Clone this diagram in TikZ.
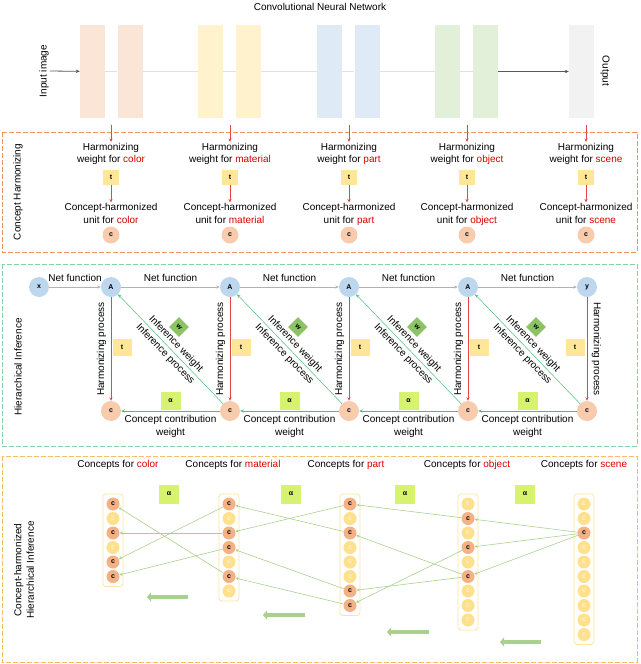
\documentclass[tikz,border=0pt]{standalone}
\usepackage{fontspec}
\setmainfont{Liberation Sans}
\usetikzlibrary{arrows.meta,positioning}
\definecolor{blocOrange}{RGB}{251,229,214}
\definecolor{blocJaune}{RGB}{255,242,204}
\definecolor{blocBleu}{RGB}{222,235,247}
\definecolor{blocVert}{RGB}{226,240,217}
\definecolor{blocGris}{RGB}{242,242,242}
\definecolor{motRouge}{RGB}{215,0,0}
\definecolor{traitRouge}{RGB}{228,70,70}
\definecolor{traitVert}{RGB}{70,195,120}
\definecolor{lienVert}{RGB}{169,209,142}
\definecolor{rondBleu}{RGB}{189,215,238}
\definecolor{rondOrange}{RGB}{248,203,173}
\definecolor{rondFonce}{RGB}{244,177,131}
\definecolor{rondClair}{RGB}{255,224,140}
\definecolor{boiteJaune}{RGB}{255,230,153}
\definecolor{boiteAlpha}{RGB}{215,242,110}
\definecolor{losangeVert}{RGB}{140,195,100}
\definecolor{cadreOrange}{RGB}{240,150,90}
\definecolor{cadreVert}{RGB}{130,215,160}
\definecolor{cadreJaune}{RGB}{248,190,100}
\definecolor{cadreCol}{RGB}{255,228,160}
\newcommand{\motR}[1]{\textcolor{motRouge}{#1}}

\begin{document}
\begin{tikzpicture}[x=1pt,y=-1pt,
	texte/.style={align=center,font=\fontsize{10}{12.5}\selectfont,inner sep=1pt},
	lettre/.style={font=\fontsize{7}{8}\selectfont\bfseries,inner sep=0pt},
	bloc/.style={fill=#1,minimum width=25pt,minimum height=93pt,inner sep=0pt},
	boite t/.style={lettre,fill=boiteJaune,minimum width=16pt,minimum height=15pt},
	boite a/.style={lettre,fill=boiteAlpha,minimum width=20pt,minimum height=19pt},
	rond c/.style={lettre,circle,fill=rondOrange,minimum size=17pt},
	rond b/.style={lettre,circle,fill=rondBleu,minimum size=20pt},
	losange/.style={lettre,fill=losangeVert,minimum size=14pt,rotate=-45},
	cf/.style={lettre,circle,fill=rondFonce,minimum size=13pt},
	cc/.style={lettre,circle,fill=rondClair,text=blocJaune,minimum size=13pt},
	colonne/.style={draw=cadreCol,fill=white,rounded corners=3pt,line width=0.8pt},
	cadre/.style={draw=#1,dash pattern=on 5pt off 2pt,line width=0.9pt},
	fleche grise/.style={draw=black!30,line width=0.6pt,-{Stealth[length=3.5pt,width=3pt]}},
	fleche sombre/.style={draw=black!65,line width=0.8pt,-{Stealth[length=4pt,width=3.5pt]}},
	fleche rouge/.style={draw=traitRouge,line width=0.7pt,-{Stealth[length=3.5pt,width=3pt]}},
	fleche verte/.style={draw=traitVert,line width=0.8pt,-{Stealth[length=3.5pt,width=3pt]}},
	fleche diag/.style={draw=traitVert,line width=0.5pt,-{Stealth[length=3.5pt,width=3pt]}},
	lien/.style={draw=lienVert,line width=0.6pt,-{Stealth[length=3pt,width=3pt]}},
	grosse fleche/.style={draw=lienVert,line width=3.5pt,-{Triangle[length=4pt,width=9pt]}}]
	\useasboundingbox (0,0) rectangle (640,664);
	%
	% Réseau convolutif
	\node[texte] (titre) at (320,7) {Convolutional Neural Network};
	\node[bloc=blocOrange] (b1a) at (92.5,71.5) {};
	\node[bloc=blocOrange] (b1b) at (130,71.5) {};
	\node[bloc=blocJaune] (b2a) at (210.5,71.5) {};
	\node[bloc=blocJaune] (b2b) at (248.5,71.5) {};
	\node[bloc=blocBleu] (b3a) at (329.5,71.5) {};
	\node[bloc=blocBleu] (b3b) at (367,71.5) {};
	\node[bloc=blocVert] (b4a) at (447.5,71.5) {};
	\node[bloc=blocVert] (b4b) at (485.5,71.5) {};
	\node[bloc=blocGris] (sortie) at (581.5,71.5) {};
	\node[texte,rotate=90] (entree) at (44,71) {Input image};
	\node[texte,rotate=-90] (motsortie) at (605,71) {Output};
	\foreach \a/\b in {b1a/b1b,b1b/b2a,b2a/b2b,b2b/b3a,b3a/b3b,b3b/b4a,b4a/b4b}
		\draw[black!12,line width=0.6pt] (\a) -- (\b);
	\draw[fleche sombre] (entree.south) -- (b1a);
	\draw[fleche sombre] (b4b) -- (sortie);
	%
	% Harmonisation des concepts
	\draw[cadre=cadreOrange] (2,132) rectangle (637,252);
	\node[texte,rotate=90] (lab1) at (18,192) {Concept Harmonizing};
	\foreach \i/\xc/\nom in {1/111/color,2/230/material,3/349/part,4/467/object,5/586/scene}{
		\coordinate (r\i) at (\xc,125);
		\node[texte,anchor=north] (h\i) at (\xc,142) {Harmonizing\\weight for \motR{\nom}};
		\node[boite t] (t\i) at (\xc,177) {t};
		\node[texte,anchor=north] (u\i) at (\xc,202.5) {Concept-harmonized\\unit for \motR{\nom}};
		\node[rond c] (c\i) at (\xc,235) {c};
		\draw[fleche rouge] (r\i) -- (h\i);
		\draw[fleche rouge] (t\i) -- (u\i);
	}
	%
	% Inférence hiérarchique
	\draw[cadre=cadreVert] (2,264) rectangle (637,446);
	\node[texte,rotate=90] (lab2) at (18,367) {Hierarchical Inference};
	\node[rond b] (x) at (39,287) {x};
	\foreach \i in {1,...,4}
		\node[rond b] (A\i) at ({111+119*(\i-1)},287) {A};
	\node[rond b] (A5) at (587,287) {y};
	\foreach \i in {1,...,5}
		\node[rond c,minimum size=20pt] (k\i) at ({111+119*(\i-1)},411) {c};
	\draw[fleche grise] (x) -- node[texte,above=4pt]{Net function} (A1);
	\foreach \i [count=\j from 2] in {1,...,4}{
		\draw[fleche grise] (A\i) -- node[texte,above=4pt]{Net function} (A\j);
		\draw[fleche rouge] (A\i) -- node[texte,rotate=90,anchor=south,inner sep=4.5pt]{Harmonizing process} (k\i);
		\draw[fleche verte] (k\j) -- node[texte,below=3pt]{Concept contribution\\weight} (k\i);
		\draw[fleche diag] (k\j) -- node[texte,sloped,above=1.5pt]{Inference weight} node[texte,sloped,below=1.5pt]{Inference process} (A\i);
		\node[boite t,minimum width=19pt,minimum height=17pt] (tt\i) at ({122+119*(\i-1)},347) {t};
		\node[boite a,minimum height=18pt] (al\i) at ({170.5+119*(\i-1)},401) {α};
		\node[losange] (w\i) at ({179+119*(\i-1)},327) {w};
	}
	\draw[fleche rouge] (A5) -- node[texte,rotate=-90,anchor=south,inner sep=4.5pt]{Harmonizing process} (k5);
	\node[boite t,minimum width=19pt,minimum height=17pt] (tt5) at (575,347) {t};
	%
	% Inférence hiérarchique harmonisée
	\draw[cadre=cadreJaune] (2,456) rectangle (637,662);
	\node[texte,rotate=90] (lab3) at (24,570) {Concept-harmonized\\Hierarchical Inference};
	\foreach \xc/\nom in {118/color,233/material,346/part,467/object,584/scene}
		\node[texte] (titre\nom) at (\xc,465) {Concepts for \motR{\nom}};
	\foreach \xc [count=\i] in {169,291,405,525}
		\node[boite a] (be\i) at (\xc,494) {α};
	%
	% Colonnes de concepts
	\draw[colonne] (103,494) rectangle (123,586.5);
	\foreach \sty [count=\k] in {cf,cc,cf,cc,cf,cf}
		\node[\sty] (co\k) at (113,{489.5+14.5*\k}) {c};
	\draw[colonne] (219,494) rectangle (239,601);
	\foreach \sty [count=\k] in {cf,cc,cf,cf,cc,cf,cc}
		\node[\sty] (ma\k) at (229,{489.5+14.5*\k}) {c};
	\draw[colonne] (340,494) rectangle (360,615.5);
	\foreach \sty [count=\k] in {cf,cc,cf,cc,cc,cc,cf,cf}
		\node[\sty] (pa\k) at (350,{489.5+14.5*\k}) {c};
	\draw[colonne] (458,494) rectangle (478,630);
	\foreach \sty [count=\k] in {cc,cf,cc,cf,cc,cf,cc,cc,cc}
		\node[\sty] (ob\k) at (468,{489.5+14.5*\k}) {c};
	\draw[colonne] (574,494) rectangle (594,644.5);
	\foreach \sty [count=\k] in {cc,cc,cf,cc,cc,cc,cc,cc,cc,cc}
		\node[\sty] (sc\k) at (584,{489.5+14.5*\k}) {c};
	%
	% Liens entre concepts
	\foreach \a/\b in {ma1/co5,ma3/co3,ma4/co6,ma6/co1,pa1/ma3,pa3/ma1,pa7/ma4,pa8/ma6,ob2/pa1,ob6/pa3,ob4/pa8,ob6/pa7,sc3/ob2,sc3/ob4,sc3/ob6}
		\draw[lien] (\a) -- (\b);
	%
	% Grosses flèches
	\coordinate (g1a) at (188,597); \coordinate (g1b) at (147,597);
	\coordinate (g2a) at (305,615); \coordinate (g2b) at (263,615);
	\coordinate (g3a) at (429,632); \coordinate (g3b) at (387,632);
	\coordinate (g4a) at (541,642); \coordinate (g4b) at (500,642);
	\foreach \i in {1,...,4}
		\draw[grosse fleche] (g\i a) -- (g\i b);
\end{tikzpicture}
\end{document}
